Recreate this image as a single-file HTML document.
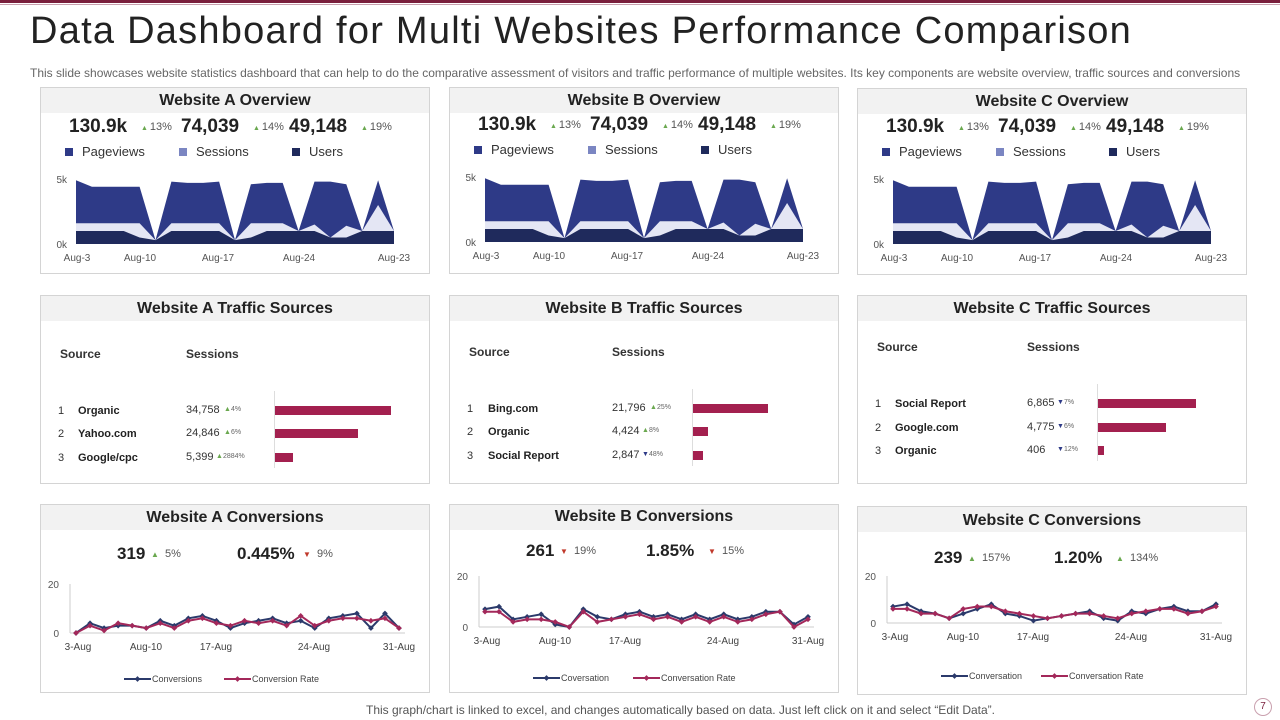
<!DOCTYPE html>
<html><head><meta charset="utf-8">
<style>
*{margin:0;padding:0;box-sizing:border-box}
body{width:1280px;height:720px;background:#fff;font-family:"Liberation Sans",Arial,sans-serif;position:relative;overflow:hidden;color:#222}
.abs{position:absolute;white-space:nowrap}
.panel{position:absolute;border:1px solid #d4d4d4;background:#fff}
.hdr{position:absolute;left:0;top:0;right:0;height:25px;background:#f2f2f2;font-weight:bold;font-size:16px;text-align:center;line-height:25px;color:#222}
svg{position:absolute;left:0;top:0;overflow:visible}
</style></head><body>
<div class="abs" style="left:0;top:0;width:1280px;height:3px;background:#7a1f3d"></div>
<div class="abs" style="left:0;top:4px;width:1280px;height:1px;background:#c9a0ae"></div>
<div class="abs" style="left:30px;top:10px;font-size:38px;color:#222;letter-spacing:1.25px">Data Dashboard for Multi Websites Performance Comparison</div>
<div class="abs" style="left:30px;top:66px;font-size:12px;color:#666">This slide showcases website statistics dashboard that can help to do the comparative assessment of visitors and traffic performance of multiple websites. Its key components are website overview, traffic sources and conversions</div>
<div class="abs" style="left:366px;top:703px;font-size:12px;color:#555">This graph/chart is linked to excel, and changes automatically based on data. Just left click on it and select “Edit Data”.</div>
<div class="abs" style="left:1254px;top:698px;width:18px;height:18px;border-radius:50%;border:1px solid #c9a0ae;font-size:10px;color:#7a1f3d;text-align:center;line-height:16px">7</div>

<script>
// ---------- chart data ----------
const overviewDates = ["Aug-3","Aug-10","Aug-17","Aug-24","Aug-23"];
const pageviews = [4.9,4.4,4.4,4.4,4.4,0.3,4.8,4.7,4.7,4.8,0.3,4.6,4.7,4.7,1.0,4.8,4.8,4.6,1.0,4.9,1.0];
const sessions  = [1.6,1.6,1.6,1.6,1.6,0.3,1.6,1.6,1.6,1.6,0.3,1.6,1.6,1.6,1.0,1.5,0.5,1.4,1.0,3.0,1.0];
const users     = [1.0,1.0,1.0,1.0,0.5,0.3,1.0,1.0,1.0,1.0,0.3,0.5,1.0,1.0,1.0,1.0,0.5,0.5,1.0,1.0,1.0];
const convDates = ["3-Aug","Aug-10","17-Aug","24-Aug","31-Aug"];
const conversionsA = [0,4,2,3,3,2,5,3,6,7,5,2,4,5,6,4,5,2,6,7,8,2,8,2];
const convRateA    = [0,3,1,4,3,2,4,2,5,6,4,3,5,4,5,3,7,3,5,6,6,5,6,2];
const conversionsB = [7,8,3,4,5,1,0,7,4,3,5,6,4,5,3,5,3,5,3,4,6,6,1,4];
const convRateB    = [6,6,2,3,3,2,0,6,2,3,4,5,3,4,2,4,2,4,2,3,5,6,0,3];
const conversionsC = [7,8,5,4,2,4,6,8,4,3,1,2,3,4,5,2,1,5,4,6,7,5,5,8];
const convRateC    = [6,6,4,4,2,6,7,7,5,4,3,2,3,4,4,3,2,4,5,6,6,4,5,7];
const trafficNamesA = ["Organic","Yahoo.com","Google/cpc"];
const trafficValsA  = [34758,24846,5399];
const trafficPctA   = ["4%","6%","2884%"];
const trafficNamesB = ["Bing.com","Organic","Social Report"];
const trafficValsB  = [21796,4424,2847];
const trafficPctB   = ["25%","8%","48%"];
const trafficNamesC = ["Social Report","Google.com","Organic"];
const trafficValsC  = [6865,4775,406];
const trafficPctC   = ["7%","6%","12%"];

const NS="http://www.w3.org/2000/svg";
function mk(parent,tag,attrs){const e=document.createElementNS(NS,tag);for(const k in attrs)e.setAttribute(k,attrs[k]);parent.appendChild(e);return e;}
function div(parent,style,text){const d=document.createElement('div');d.className='abs';d.style.cssText=style;if(text!==undefined)d.textContent=text;parent.appendChild(d);return d;}
function panel(left,top,w,h,title){
  const p=document.createElement('div');p.className='panel';
  p.style.cssText=`left:${left}px;top:${top}px;width:${w}px;height:${h}px`;
  document.body.appendChild(p);
  const hd=document.createElement('div');hd.className='hdr';hd.textContent=title;
  
  
  p.appendChild(hd);
  return p;
}

// ---------- overview panels ----------
const ovCfg=[{l:40,t:87,n:"A",dy:0},{l:449,t:87,n:"B",dy:-2},{l:857,t:88,n:"C",dy:-1}];
ovCfg.forEach(c=>{
  const p=panel(c.l,c.t,390,187,`Website ${c.n} Overview`);
  
  
  const stats=[["130.9k","13%",28],["74,039","14%",140],["49,148","19%",248]];
  stats.forEach(s=>{
    const v=div(p,`left:${s[2]}px;top:${28+c.dy}px;font-size:19px;font-weight:bold;color:#222`,s[0]);
    
    
    const k=div(p,`left:${s[2]+(s[0].length>6?76:72)}px;top:${33+c.dy}px;font-size:11px;color:#555`,"");
    k.innerHTML='<span style="color:#6aa84f;font-size:7px">▲ </span>'+s[1];
    
    
  });
  const leg=[["Pageviews","#2e3a87",24],["Sessions","#7b86c2",138],["Users","#1f2a5c",251]];
  leg.forEach(g=>{
    const sq=div(p,`left:${g[2]}px;top:${60+c.dy}px;width:8px;height:8px;background:${g[1]}`);
    
    
    const t=div(p,`left:${g[2]+17}px;top:${56+c.dy}px;font-size:13px;color:#333`,g[0]);
    
    
  });
  const svg=mk(p,'svg',{width:390,height:187});
  
  
  const x0=35,x1=353,y0=156+c.dy,y5=91+c.dy;
  const xs=i=>x0+(x1-x0)*i/(pageviews.length-1);
  const ys=v=>y0-(y0-y5)*v/5;
  function area(arr,col,name){
    let pts=arr.map((v,i)=>xs(i)+','+ys(v)).join(' ');
    pts+=` ${xs(arr.length-1)},${y0} ${xs(0)},${y0}`;
    const e=mk(svg,'polygon',{points:pts,fill:col});
    
    
  }
  area(pageviews,'#2e3a87','pageviews-area');
  area(sessions,'#e4e6f4','sessions-area');
  area(users,'#1f2a5c','users-area');
  [["5k",5],["0k",0]].forEach(t=>{
    const e=mk(svg,'text',{x:26,y:ys(t[1])+4,'font-size':10,fill:'#555','text-anchor':'end'});e.textContent=t[0];
    
    
  });
  const xl=[36,99,177,258,353];
  overviewDates.forEach((d,i)=>{
    const e=mk(svg,'text',{x:xl[i],y:y0+17,'font-size':10,fill:'#555','text-anchor':'middle'});e.textContent=d;
    
    
  });
});

// ---------- traffic panels ----------
const trCfg=[
 {l:40,n:"A",names:trafficNamesA,vals:trafficValsA,pct:trafficPctA,up:[1,1,1],hy:58,rows:[115,138,162],num:145,bar:233,bw:116,nx:37},
 {l:449,n:"B",names:trafficNamesB,vals:trafficValsB,pct:trafficPctB,up:[1,1,0],hy:56,rows:[113,136,160],num:162,bar:242,bw:75,nx:38},
 {l:857,n:"C",names:trafficNamesC,vals:trafficValsC,pct:trafficPctC,up:[0,0,0],hy:51,rows:[108,132,155],num:169,bar:239,bw:98,nx:37}];
trCfg.forEach(c=>{
  const p=panel(c.l,295,390,189,`Website ${c.n} Traffic Sources`);
  
  
  const h1=div(p,`left:19px;top:${c.hy-7}px;font-size:12px;font-weight:bold;color:#333`,"Source");
  
  
  const h2=div(p,`left:${c.num}px;top:${c.hy-7}px;font-size:12px;font-weight:bold;color:#333`,"Sessions");
  
  
  const ax=div(p,`left:${c.bar}px;top:${c.rows[0]-20}px;width:1px;height:${c.rows[2]-c.rows[0]+30}px;background:#ddd`);
  
  
  const mx=Math.max(...c.vals);
  c.names.forEach((nm,i)=>{
    const y=c.rows[i];
    const r=div(p,`left:17px;top:${y-6}px;font-size:11px;color:#333`,String(i+1));
    
    
    const n=div(p,`left:${c.nx}px;top:${y-6}px;font-size:11px;font-weight:bold;color:#222`,nm);
    
    
    const v=div(p,`left:${c.num}px;top:${y-7}px;font-size:11px;color:#333`,c.vals[i].toLocaleString('en-US'));
    
    
    const k=div(p,`left:${c.num+(c.vals[i]>=10000?38:30)}px;top:${y-5}px;font-size:7px;color:#666`,"");
    k.innerHTML=(c.up[i]?'<span style="color:#6aa84f">▲</span>':'<span style="color:#2e3a87">▼</span>')+c.pct[i];
    
    
    const b=div(p,`left:${c.bar+1}px;top:${y-5}px;height:9px;width:${c.vals[i]/mx*c.bw}px;background:#a3204f`);
    
    
  });
});

// ---------- conversion panels ----------
const cvCfg=[
 {l:40,t:504,n:"A",c:conversionsA,r:convRateA,ty:13,sy:49,y20:79,y0:128,v1:"319",p1:"5%",u1:1,v2:"0.445%",p2:"9%",u2:0,lg:["Conversions","Conversion Rate"],ly:174},
 {l:449,t:504,n:"B",c:conversionsB,r:convRateB,ty:12,sy:46,y20:71,y0:122,v1:"261",p1:"19%",u1:0,v2:"1.85%",p2:"15%",u2:0,lg:["Coversation","Conversation Rate"],ly:173},
 {l:857,t:506,n:"C",c:conversionsC,r:convRateC,ty:14,sy:51,y20:69,y0:116,v1:"239",p1:"157%",u1:1,v2:"1.20%",p2:"134%",u2:1,lg:["Conversation","Conversation Rate"],ly:169}];
cvCfg.forEach(c=>{
  const p=panel(c.l,c.t,390,189,`Website ${c.n} Conversions`);
  
  
  p.querySelector('.hdr').style.lineHeight=(c.ty*2)+'px';
  const st=[[c.v1,c.p1,c.u1,76],[c.v2,c.p2,c.u2,196]];
  st.forEach(s=>{
    const v=div(p,`left:${s[3]}px;top:${c.sy-10}px;font-size:17px;font-weight:bold;color:#222`,s[0]);
    
    
    const k=div(p,`left:${s[3]+(s[0].length>3?(s[0].length>5?66:62):34)}px;top:${c.sy-6}px;font-size:11px;color:#555`,"");
    k.innerHTML=(s[2]?'<span style="color:#6aa84f;font-size:8px">▲</span>':'<span style="color:#c0392b;font-size:8px">▼</span>')+'&nbsp;&nbsp;'+s[1];
    
    
  });
  const svg=mk(p,'svg',{width:390,height:189});
  
  
  const x0=35,x1=358;
  const xs=i=>x0+(x1-x0)*i/(c.c.length-1);
  const ys=v=>c.y0-(c.y0-c.y20)*v/20;
  const a1=mk(svg,'line',{x1:29,y1:c.y20,x2:29,y2:c.y0,stroke:'#ccc'});
  
  
  const a2=mk(svg,'line',{x1:29,y1:c.y0,x2:x1+6,y2:c.y0,stroke:'#ccc'});
  
  
  [["20",20],["0",0]].forEach(t=>{
    const e=mk(svg,'text',{x:18,y:ys(t[1])+4,'font-size':10,fill:'#555','text-anchor':'end'});e.textContent=t[0];
    
    
  });
  const xl=[37,105,175,273,358];
  convDates.forEach((d,i)=>{
    const e=mk(svg,'text',{x:xl[i],y:c.y0+17,'font-size':10,fill:'#444','text-anchor':'middle'});e.textContent=d;
    
    
  });
  function series(arr,col,name){
    const l=mk(svg,'polyline',{points:arr.map((v,i)=>xs(i)+','+ys(v)).join(' '),fill:'none',stroke:col,'stroke-width':2});
    
    
    arr.forEach((v,i)=>{
      const m=mk(svg,'rect',{x:xs(i)-2,y:ys(v)-2,width:4,height:4,fill:col,transform:`rotate(45 ${xs(i)} ${ys(v)})`});
      
      
    });
  }
  series(c.c,'#2b3a6b','conversions');
  series(c.r,'#a3285a','conversion-rate');
  [[83,'#2b3a6b',c.lg[0]],[183,'#a3285a',c.lg[1]]].forEach(g=>{
    const l=mk(svg,'line',{x1:g[0],y1:c.ly,x2:g[0]+27,y2:c.ly,stroke:g[1],'stroke-width':2});
    
    
    const m=mk(svg,'rect',{x:g[0]+11.5,y:c.ly-2,width:4,height:4,fill:g[1],transform:`rotate(45 ${g[0]+13.5} ${c.ly})`});
    
    
    const t=mk(svg,'text',{x:g[0]+28,y:c.ly+3,'font-size':9,fill:'#444'});t.textContent=g[2];
    
    
  });
});
</script>
</body></html>
